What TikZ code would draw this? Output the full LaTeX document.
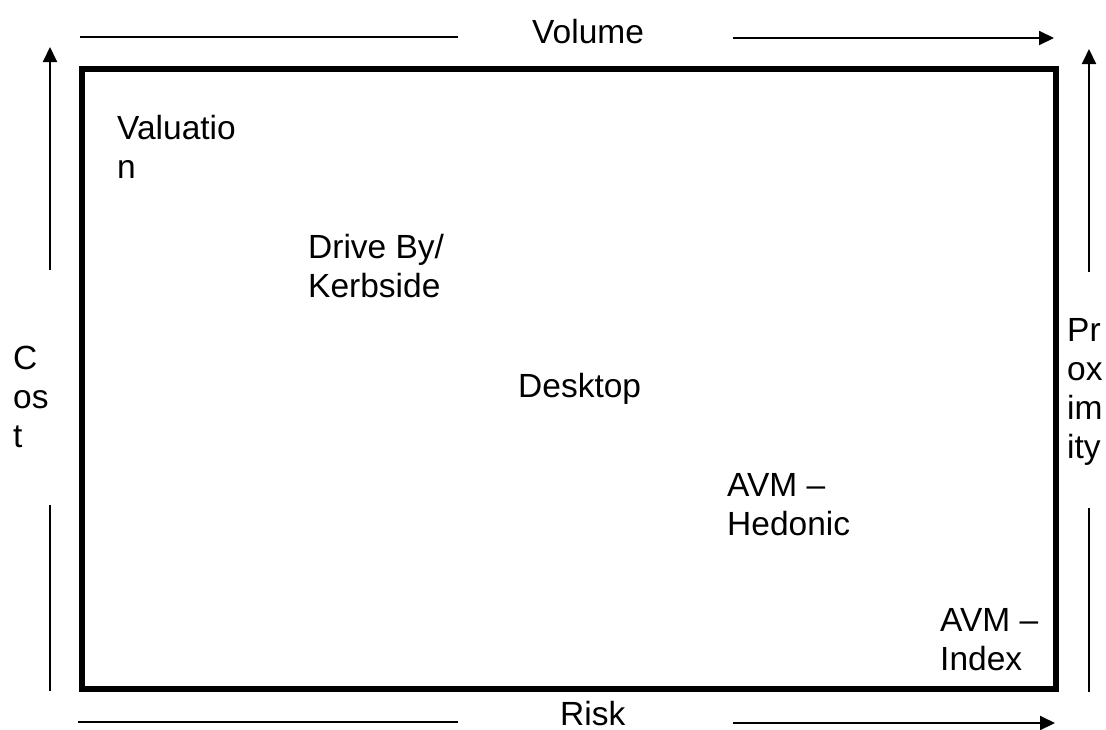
\documentclass[tikz,border=0pt]{standalone}
\usepackage{fontspec}
\setmainfont{Liberation Sans}
\usetikzlibrary{arrows.meta}
\tikzset{
  lbl/.style={anchor=base west,align=left,inner sep=0pt,
              font=\fontsize{33.5}{39}\selectfont},
  axisline/.style={line width=2pt},
  axisar/.style={axisline,-{Triangle[length=15pt,width=14pt]}},
  frame/.style={line width=6pt},
}
\begin{document}
\begin{tikzpicture}[x=1pt,y=-1pt]
  \useasboundingbox (0,0) rectangle (1106,729);
  % frame
  \draw[frame] (82,69) rectangle (1056,689);
  % methods (base = last line)
  \node[lbl] (val) at (117,178) {Valuatio\\n};
  \node[lbl] (drv) at (308,297) {Drive By/\\Kerbside};
  \node[lbl] (dsk) at (518,397) {Desktop};
  \node[lbl] (hed) at (727,535) {AVM –\\Hedonic};
  \node[lbl] (idx) at (940,670) {AVM –\\Index};
  % axis labels
  \node[lbl] (vol) at (532,43) {Volume};
  \node[lbl] (rsk) at (560,725) {Risk};
  \node[lbl] (cst) at (13,447) {C\\os\\t};
  \node[lbl] (prx) at (1067,458) {Pr\\ox\\im\\ity};
  % axis ends
  \coordinate (top-a) at (80,37);   \coordinate (top-b) at (458,37);
  \coordinate (top-c) at (733,38);  \coordinate (top-d) at (1054,38);
  \coordinate (bot-a) at (78,722);  \coordinate (bot-b) at (458,722);
  \coordinate (bot-c) at (733,723); \coordinate (bot-d) at (1055,723);
  \coordinate (lft-a) at (50,691);  \coordinate (lft-b) at (50,505);
  \coordinate (lft-c) at (50,270);  \coordinate (lft-d) at (50,47);
  \coordinate (rgt-a) at (1089,692); \coordinate (rgt-b) at (1089,508);
  \coordinate (rgt-c) at (1089,272); \coordinate (rgt-d) at (1089,49);
  \draw[axisline] (top-a) -- (top-b);
  \draw[axisar] (top-c) -- (top-d);
  \draw[axisline] (bot-a) -- (bot-b);
  \draw[axisar] (bot-c) -- (bot-d);
  \draw[axisline] (lft-a) -- (lft-b);
  \draw[axisar] (lft-c) -- (lft-d);
  \draw[axisline] (rgt-a) -- (rgt-b);
  \draw[axisar] (rgt-c) -- (rgt-d);
\end{tikzpicture}
\end{document}
